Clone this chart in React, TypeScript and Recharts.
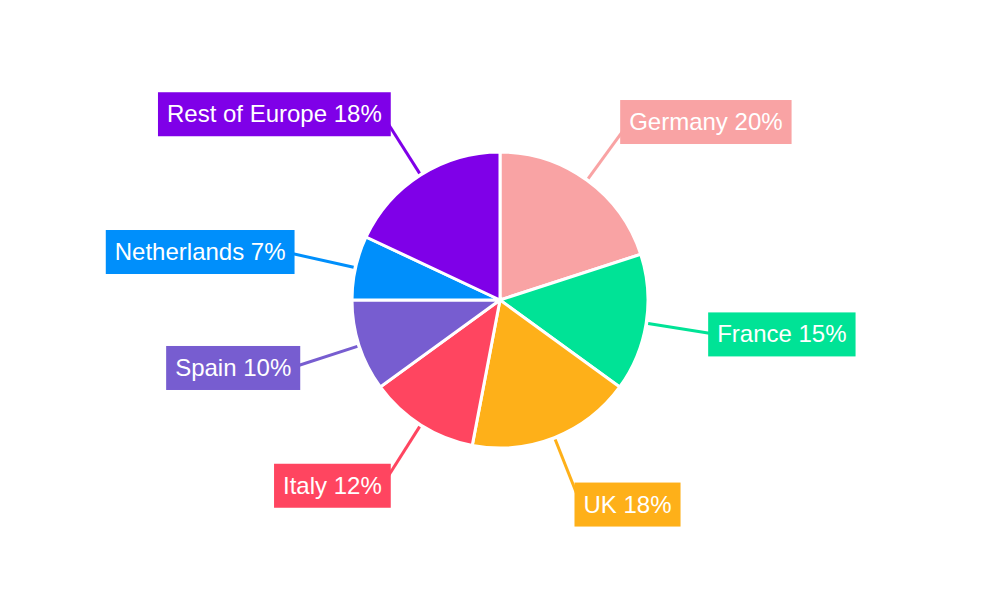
import React from 'react';
import { PieChart, Pie, Cell } from 'recharts';

const countries = ['Germany', 'France', 'UK', 'Italy', 'Spain', 'Netherlands', 'Rest of Europe'];
const shares = [20, 15, 18, 12, 10, 7, 18];
const colors = ['#F9A3A4', '#00E396', '#FEB019', '#FF4560', '#775DD0', '#008FFB', '#7F00E8'];

const data = countries.map((name, i) => ({ name, value: shares[i] }));

const RADIAN = Math.PI / 180;
const FONT = '"Liberation Sans", Arial, sans-serif';
const FONT_SIZE = 24;

let ctx: CanvasRenderingContext2D | null = null;
const measure = (text: string) => {
  if (!ctx) ctx = document.createElement('canvas').getContext('2d');
  if (!ctx) return text.length * FONT_SIZE * 0.55;
  ctx.font = `${FONT_SIZE}px ${FONT}`;
  return ctx.measureText(text).width;
};

const renderLabel = (props: any) => {
  const { cx, cy, midAngle, outerRadius, index, name, value } = props;
  const cos = Math.cos(-midAngle * RADIAN);
  const sin = Math.sin(-midAngle * RADIAN);
  const color = colors[index];
  const text = `${name} ${value}%`;
  const w = measure(text) + 18;
  const h = 44;
  const sx = cx + (outerRadius + 2) * cos;
  const sy = cy + (outerRadius + 2) * sin;
  const ex = cx + (outerRadius + 72) * cos;
  const ey = cy + (outerRadius + 72) * sin;
  // boxes sit a bit closer to the pie when the label is near top/bottom
  const edgeX = cx + (outerRadius + 63 - 10 * sin * sin) * cos;
  const boxX = cos >= 0 ? edgeX : edgeX - w;
  const boxY = ey - h / 2;
  return (
    <g key={`label-${index}`}>
      <line x1={sx} y1={sy} x2={ex} y2={ey} stroke={color} strokeWidth={3} />
      <rect x={boxX} y={boxY} width={w} height={h} fill={color} />
      <text
        x={boxX + 9}
        y={ey + 8}
        fill="#fff"
        fontSize={FONT_SIZE}
        fontFamily={FONT}
        textAnchor="start"
      >
        {text}
      </text>
    </g>
  );
};

export default function App() {
  return (
    <div style={{ position: 'absolute', left: 0, top: 0, width: 1000, height: 600, background: '#fff' }}>
      <PieChart width={1000} height={600} margin={{ top: 0, right: 0, bottom: 0, left: 0 }}>
        <Pie
          data={data}
          dataKey="value"
          nameKey="name"
          cx={500}
          cy={300}
          outerRadius={148}
          startAngle={90}
          endAngle={-270}
          stroke="#fff"
          strokeWidth={3}
          label={renderLabel}
          labelLine={false}
          isAnimationActive={false}
        >
          {data.map((d, i) => (
            <Cell key={d.name} fill={colors[i]} />
          ))}
        </Pie>
      </PieChart>
    </div>
  );
}
